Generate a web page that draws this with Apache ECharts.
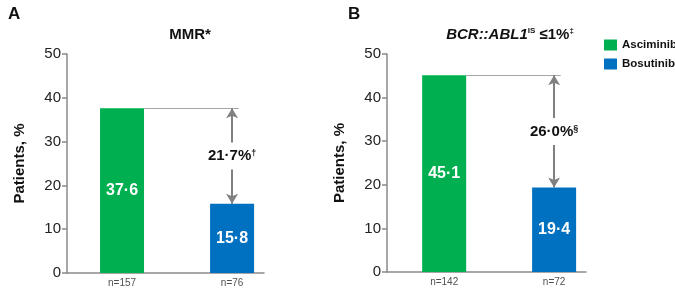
<!DOCTYPE html>
<html>
<head>
<meta charset="utf-8">
<script src="https://cdn.jsdelivr.net/npm/echarts@6/dist/echarts.min.js"></script>
<style>
  html, body { margin: 0; padding: 0; background: #fff; }
  #main { width: 675px; height: 288px; }
</style>
</head>
<body>
<div id="main"></div>
<script>
// 数据
var groups = ['Asciminib', 'Bosutinib'];
var valuesA = [37.6, 15.8];   // MMR
var valuesB = [45.1, 19.4];   // BCR::ABL1 <=1%
var countsA = ['n=157', 'n=76'];
var countsB = ['n=142', 'n=72'];
var diffA = '21·7';
var diffB = '26·0';
var markA = '†';
var markB = '§';
var yTicks = [0, 10, 20, 30, 40, 50];

var colors = ['#00b050', '#0070c0'];
var font = '"Liberation Sans", Arial, sans-serif';
var grey = '#8a8a8a';

var myChart = echarts.init(document.getElementById('main'));

function dot(v) {
    return String(v.toFixed(1)).replace('.', '·');
}

function yAxisOf(gi) {
    return {
        type: 'value', gridIndex: gi,
        min: yTicks[0], max: yTicks[yTicks.length - 1], interval: 10,
        name: 'Patients, %', nameLocation: 'middle', nameGap: 40,
        nameTextStyle: { fontFamily: font, fontSize: 15, fontWeight: 'bold', color: '#111' },
        axisLine: { show: true, onZero: false, lineStyle: { color: grey, width: 1.5 } },
        axisTick: { show: true, length: 5, lineStyle: { color: grey, width: 1.5 } },
        axisLabel: { fontFamily: font, fontSize: 15, color: '#222', margin: 6 },
        splitLine: { show: false }
    };
}

function xAxisOf(gi, min) {
    return {
        type: 'value', gridIndex: gi, min: min, max: 1.29,
        axisLine: { show: true, onZero: false, lineStyle: { color: grey, width: 1.5 } },
        axisTick: { show: false },
        axisLabel: { show: false },
        splitLine: { show: false }
    };
}

// 柱子 + 参考线 + 双箭头
function barSeries(gi, idx, vals, diff, mark) {
    var s = {
        type: 'bar', name: groups[idx],
        xAxisIndex: gi, yAxisIndex: gi,
        barWidth: 44, barGap: '-100%',
        itemStyle: { color: colors[idx] },
        data: [[idx, vals[idx]]],
        label: {
            show: true, position: 'inside',
            fontFamily: font, fontSize: 16, fontWeight: 'bold', color: '#fff',
            formatter: function (p) { return dot(p.value[1]); }
        }
    };
    if (idx === 1) {
        s.markLine = {
            silent: true,
            animation: false,
            label: { show: false },
            data: [
                [
                    { coord: [0.2, vals[0]], symbol: 'none',
                      lineStyle: { color: '#a6a6a6', width: 1.2, type: 'solid' } },
                    { coord: [1.06, vals[0]], symbol: 'none' }
                ],
                [
                    { coord: [1, vals[0]], symbol: 'arrow', symbolSize: [9, 10],
                      lineStyle: { color: '#808080', width: 2, type: 'solid' } },
                    { coord: [1, vals[1]], symbol: 'arrow', symbolSize: [9, 10] }
                ]
            ]
        };
        s.markPoint = {
            silent: true,
            animation: false,
            symbol: 'rect', symbolSize: 0,
            data: [{ coord: [1, (vals[0] + vals[1]) / 2] }],
            label: {
                show: true, position: 'inside',
                backgroundColor: '#fff', padding: [6, 2],
                formatter: '{a|' + diff + '%}{b|' + mark + '}',
                rich: {
                    a: { fontFamily: font, fontSize: 15, fontWeight: 'bold', color: '#111' },
                    b: { fontFamily: font, fontSize: 9, fontWeight: 'bold', color: '#111',
                         verticalAlign: 'top', padding: [0, 0, 6, 0] }
                }
            }
        };
    }
    return s;
}

function countSeries(gi, counts) {
    return {
        type: 'scatter', xAxisIndex: gi, yAxisIndex: gi,
        symbolSize: 0, silent: true,
        data: [[0, 0], [1, 0]],
        label: {
            show: true, position: 'bottom', distance: 5,
            fontFamily: font, fontSize: 10, color: '#222',
            formatter: function (p) { return counts[p.dataIndex]; }
        }
    };
}

var option = {
    animation: false,
    title: [
        { text: 'A', left: 3, top: 1, textStyle: { fontFamily: font, fontSize: 17, fontWeight: 'bold', color: '#111' } },
        { text: 'B', left: 343, top: 1, textStyle: { fontFamily: font, fontSize: 17, fontWeight: 'bold', color: '#111' } },
        { text: 'MMR*', left: 185, top: 22, textAlign: 'center',
          textStyle: { fontFamily: font, fontSize: 15, fontWeight: 'bold', color: '#111' } },
        { text: '{i|BCR::ABL1}{s|IS}{n| ≤1%}{s|‡}', left: 505, top: 22, textAlign: 'center',
          textStyle: {
              rich: {
                  i: { fontFamily: font, fontSize: 15, fontWeight: 'bold', fontStyle: 'italic', color: '#111' },
                  n: { fontFamily: font, fontSize: 15, fontWeight: 'bold', color: '#111' },
                  s: { fontFamily: font, fontSize: 8, color: '#111', verticalAlign: 'top', padding: [0, 0, 7, 0] }
              }
          } }
    ],
    legend: {
        data: groups, orient: 'vertical', left: 604, top: 39, padding: 0,
        icon: 'rect', itemWidth: 13, itemHeight: 11, itemGap: 7,
        textStyle: { fontFamily: font, fontSize: 11.5, fontWeight: 'bold', color: '#111' }
    },
    grid: [
        { left: 67, width: 197, top: 54, height: 219 },
        { left: 387, width: 199, top: 54, height: 218 }
    ],
    xAxis: [xAxisOf(0, -0.5), xAxisOf(1, -0.52)],
    yAxis: [yAxisOf(0), yAxisOf(1)],
    series: [
        barSeries(0, 0, valuesA, diffA, markA),
        barSeries(0, 1, valuesA, diffA, markA),
        barSeries(1, 0, valuesB, diffB, markB),
        barSeries(1, 1, valuesB, diffB, markB),
        countSeries(0, countsA),
        countSeries(1, countsB)
    ]
};

myChart.setOption(option);
</script>
</body>
</html>
